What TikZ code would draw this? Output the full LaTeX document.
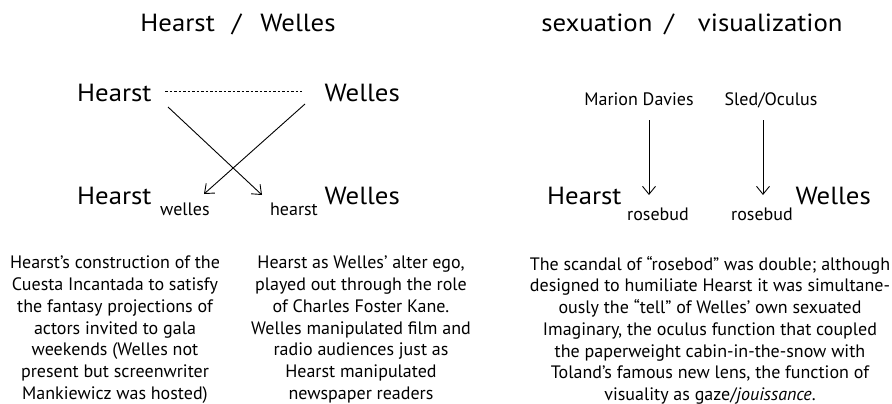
\documentclass[tikz,border=0pt]{standalone}
\usepackage{fontspec}
\setmainfont{PT Sans}
\newfontfamily\bigfont[FakeStretch=1.08]{PT Sans}
\usetikzlibrary{arrows.meta}
\tikzset{
  big/.style={font=\bigfont\fontsize{24.8}{28}\selectfont, inner sep=0pt},
  mid/.style={font=\fontsize{18}{21}\selectfont, inner sep=0pt},
  small/.style={font=\fontsize{18}{21}\selectfont, inner sep=0pt},
  para/.style={font=\fontsize{18}{21.7}\selectfont, inner sep=0pt, align=center, anchor=north},
  arr/.style={-{Straight Barb[length=8pt,width=13pt]}, line width=0.9pt},
  dots/.style={line width=0.9pt, dash pattern=on 2.6pt off 1.9pt}
}
\begin{document}
\begin{tikzpicture}[x=1pt,y=-1pt]
\useasboundingbox[fill=white] (0,0) rectangle (892,404);
% titles
\node[big,anchor=base] (t1) at (238,32) {Hearst\hspace{17pt}/\hspace{19pt}Welles};
\node[big,anchor=base] (t2) at (692,32) {sexuation\hspace{12pt}/\hspace{24pt}visualization};
% left diagram
\node[big,anchor=base west] (h1) at (77,101) {Hearst};
\node[big,anchor=base east] (w1) at (400,101) {Welles};
\node[big,anchor=base west] (h2) at (77,204) {Hearst};
\node[small,anchor=base west] (sw) at (160,215) {welles};
\node[small,anchor=base east] (sh) at (318,215) {hearst};
\node[big,anchor=base east] (w2) at (400,204) {Welles};
\coordinate (d1) at (165,91);
\coordinate (d2) at (302,91);
\draw[dots] (d1) -- (d2);
\coordinate (a1s) at (168,107);
\coordinate (a1e) at (262,195);
\coordinate (a2s) at (305,104);
\coordinate (a2e) at (204,194);
\draw[arr] (a1s) -- (a1e);
\draw[arr] (a2s) -- (a2e);
% right diagram
\node[mid,anchor=base] (md) at (639,106) {Marion Davies};
\node[mid,anchor=base] (so) at (771,106) {Sled/Oculus};
\node[big,anchor=base west] (h3) at (547,204) {Hearst};
\node[small,anchor=base west] (r1) at (627,220) {rosebud};
\node[small,anchor=base east] (r2) at (793,220) {rosebud};
\node[big,anchor=base east] (w3) at (871,204) {Welles};
\coordinate (v1s) at (649,120);
\coordinate (v1e) at (649,195);
\coordinate (v2s) at (763,120);
\coordinate (v2e) at (763,195);
\draw[arr] (v1s) -- (v1e);
\draw[arr] (v2s) -- (v2e);
% paragraphs
\node[para] (p1) at (115,256) {Hearst’s construction of the\\Cuesta Incantada to satisfy\\the fantasy projections of\\actors invited to gala\\weekends (Welles not\\present but screenwriter\\Mankiewicz was hosted)};
\node[para] (p2) at (361,256) {Hearst as Welles’ alter ego,\\played out through the role\\of Charles Foster Kane.\\Welles manipulated film and\\radio audiences just as\\Hearst manipulated\\newspaper readers};
\node[para] (p3) at (710,256) {The scandal of “rosebod” was double; although\\designed to humiliate Hearst it was simultane-\\ously the “tell” of Welles’ own sexuated\\Imaginary, the oculus function that coupled\\the paperweight cabin-in-the-snow with\\Toland’s famous new lens, the function of\\visuality as gaze/\textit{jouissance}.};
\end{tikzpicture}
\end{document}
